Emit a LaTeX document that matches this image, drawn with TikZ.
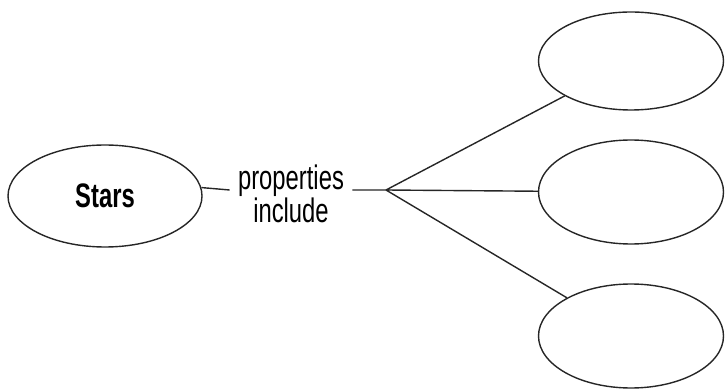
\documentclass[tikz,border=0pt]{standalone}
\usepackage{fontspec}
\setmainfont{Liberation Sans}[FakeStretch=0.7]
\usepackage{tikz}
\usetikzlibrary{shapes.geometric}

\begin{document}
\begin{tikzpicture}[x=0.5pt,y=-0.5pt,
    bubble/.style={ellipse,draw=black!85,line width=0.7pt,inner sep=0pt,
        minimum width=92.5pt,minimum height=51pt},
    link/.style={draw=black!85,line width=0.7pt}]
                \useasboundingbox (0,0) rectangle (726,389);

                \node[bubble,minimum width=97pt,minimum height=51pt,font=\fontsize{17}{17}\selectfont\bfseries] (stars) at (105,196) {Stars};
                \node[align=center,inner sep=4pt,font=\fontsize{17}{15}\selectfont] (props) at (291,194) {properties\\include};
                \coordinate (hub) at (386,190);

                \node[bubble,minimum height=49pt] (top) at (631,61) {};
                \node[bubble,minimum height=52pt] (mid) at (631,192) {};
                \node[bubble,minimum height=52pt] (bot) at (631,336) {};

                \draw[link] (stars.5) -- (props.west |- hub)
                (props.east |- hub) -- (hub)
                (hub) -- (top)
                (hub) -- (mid)
                (hub) -- (bot);
            \end{tikzpicture}
\end{document}
